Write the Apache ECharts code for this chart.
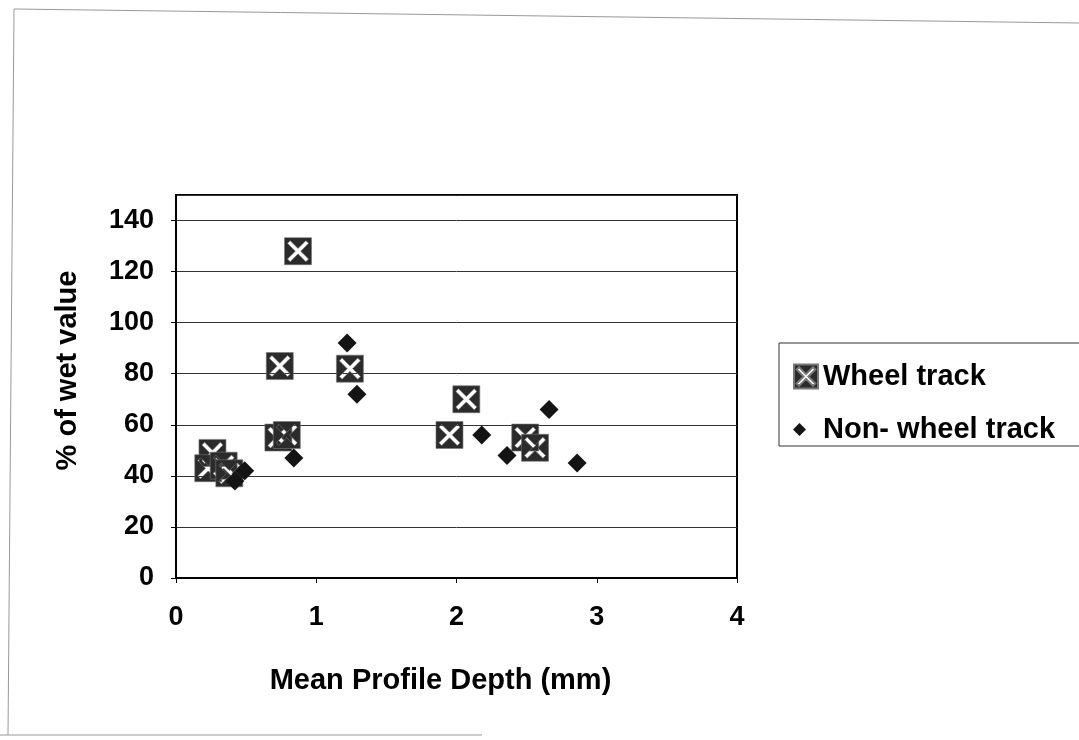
<!DOCTYPE html>
<html>
<head>
<meta charset="utf-8">
<title>% of wet value vs Mean Profile Depth</title>
<script src="https://cdn.jsdelivr.net/npm/echarts@6/dist/echarts.min.js"></script>
<style>
  html, body { margin: 0; padding: 0; background: #fff; }
  #chart { width: 1079px; height: 740px; }
</style>
</head>
<body>
<div id="chart"></div>
<script>
// Mean profile depth (mm) and % of wet value for each test section
const wheelTrack = [
  [0.87, 128], [0.74, 83], [0.73, 55], [0.79, 56], [1.24, 82],
  [0.26, 49], [0.23, 43], [0.34, 44], [0.38, 41],
  [2.07, 70], [1.95, 56], [2.49, 55], [2.56, 51]
];
const nonWheelTrack = [
  [1.22, 92], [1.29, 72], [0.84, 47], [0.49, 42], [0.42, 38],
  [2.66, 66], [2.18, 56], [2.36, 48], [2.86, 45]
];
const seriesNames = ['Wheel track', 'Non- wheel track'];
const xTitle = 'Mean Profile Depth (mm)';
const yTitle = '% of wet value';

// Square marker with an X cut out of it (inner X wound the other way)
const boxX = 'path://M0 0L100 0L100 100L0 100Z' +
  'M50 40L21 11L11 21L40 50L11 79L21 89L50 60L79 89L89 79L60 50L89 21L79 11Z';

const font = "'Liberation Sans', Arial, sans-serif";
const chart = echarts.init(document.getElementById('chart'), null, { renderer: 'canvas' });

chart.setOption({
  animation: false,
  backgroundColor: '#fff',
  grid: {
    left: 176, top: 195, right: 342, bottom: 162,
    show: true, borderColor: '#000', borderWidth: 2
  },
  xAxis: {
    type: 'value', min: 0, max: 4, interval: 1,
    name: xTitle, nameLocation: 'middle', nameGap: 88,
    nameTextStyle: { fontFamily: font, fontWeight: 'bold', fontSize: 29, color: '#000', padding: [0, 32, 0, 0] },
    axisLine: { show: true, lineStyle: { color: '#000', width: 2 } },
    axisTick: { show: true, length: 5, lineStyle: { color: '#000' } },
    axisLabel: { margin: 26, fontFamily: font, fontWeight: 'bold', fontSize: 27, color: '#000' },
    splitLine: { show: false }
  },
  yAxis: {
    type: 'value', min: 0, max: 150, interval: 20,
    name: yTitle, nameLocation: 'middle', nameGap: 94,
    nameTextStyle: { fontFamily: font, fontWeight: 'bold', fontSize: 29, color: '#000', padding: [0, 0, 0, 32] },
    axisLine: { show: true, lineStyle: { color: '#000', width: 2 } },
    axisTick: { show: true, length: 5, lineStyle: { color: '#000' } },
    axisLabel: { margin: 22, showMaxLabel: false, fontFamily: font, fontWeight: 'bold', fontSize: 27, color: '#000' },
    splitLine: { show: true, lineStyle: { color: '#333', width: 1 } }
  },
  legend: [
    {
      data: [seriesNames[0]], orient: 'vertical', left: 788, top: 357,
      itemWidth: 24, itemHeight: 24,
      textStyle: { fontFamily: font, fontWeight: 'bold', fontSize: 29, color: '#000' }
    },
    {
      data: [seriesNames[1]], orient: 'vertical', left: 788, top: 410,
      itemWidth: 13, itemHeight: 13,
      textStyle: { fontFamily: font, fontWeight: 'bold', fontSize: 29, color: '#000', padding: [0, 0, 0, 12] }
    }
  ],
  graphic: [
    // legend frame
    { type: 'rect', shape: { x: 779, y: 343, width: 330, height: 103 },
      style: { fill: 'none', stroke: '#333', lineWidth: 1 }, silent: true },
    // outer chart frame
    { type: 'polyline', shape: { points: [[14, 9], [1079, 23]] },
      style: { stroke: '#999', lineWidth: 1 }, silent: true },
    { type: 'polyline', shape: { points: [[14, 9], [8, 735]] },
      style: { stroke: '#999', lineWidth: 1 }, silent: true },
    { type: 'polyline', shape: { points: [[0, 735], [482, 735]] },
      style: { stroke: '#999', lineWidth: 1 }, silent: true }
  ],
  series: [
    {
      name: seriesNames[0], type: 'scatter', data: wheelTrack,
      symbol: boxX, symbolSize: 27,
      itemStyle: { color: '#2b2b2b', borderColor: '#777', borderWidth: 0.6, opacity: 1 },
      z: 2
    },
    {
      name: seriesNames[1], type: 'scatter', data: nonWheelTrack,
      symbol: 'diamond', symbolSize: 19,
      itemStyle: { color: '#141414', opacity: 1 },
      z: 3
    }
  ]
});
</script>
</body>
</html>
